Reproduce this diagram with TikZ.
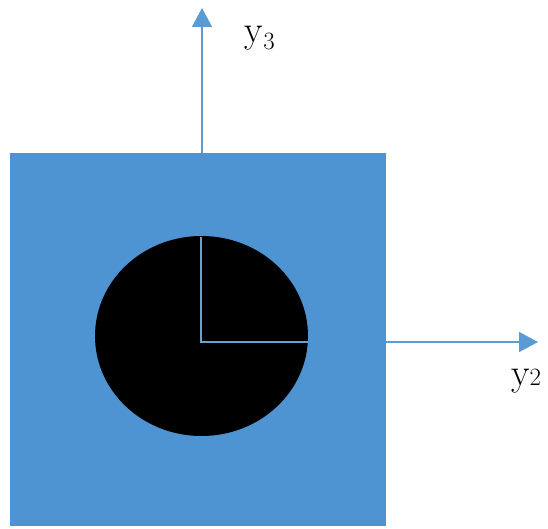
\documentclass[tikz,border=0pt]{standalone}
\usetikzlibrary{shapes.geometric,arrows.meta}
\definecolor{sqblue}{RGB}{79,148,210}
\definecolor{lnblue}{RGB}{91,155,213}
\definecolor{inblue}{RGB}{110,160,205}
\tikzset{
  axis/.style={draw=lnblue, line width=1.6pt, -{Triangle[length=19pt,width=20pt]}},
  inner line/.style={draw=inblue, line width=1.3pt},
  lbl/.style={font=\fontsize{38}{42}\selectfont, inner sep=0pt}
}
\begin{document}
\begin{tikzpicture}[x=1pt,y=-1pt]
\useasboundingbox (0,0) rectangle (548,529);
\node[fill=sqblue, minimum width=376pt, minimum height=373pt, inner sep=0pt, anchor=north west] (sq) at (10,153) {};
\node[ellipse, fill=black, minimum width=213pt, minimum height=200pt, inner sep=0pt] (disk) at (201.5,336) {};
\coordinate (c) at (201,342);
\coordinate (ctop) at (201,237);
\coordinate (cright) at (308,342);
\draw[inner line] (ctop) -- (c) -- (cright);
\coordinate (y3base) at (202,153);
\coordinate (y3tip) at (202,8);
\coordinate (y2base) at (386,342);
\coordinate (y2tip) at (538,342);
\draw[axis] (y3base) -- (y3tip);
\draw[axis] (y2base) -- (y2tip);
\node[lbl] (l3) at (260,38) {y$_{3}$};
\node[lbl] (l2) at (526,381) {y$\mathrm{2}$};
\end{tikzpicture}
\end{document}
